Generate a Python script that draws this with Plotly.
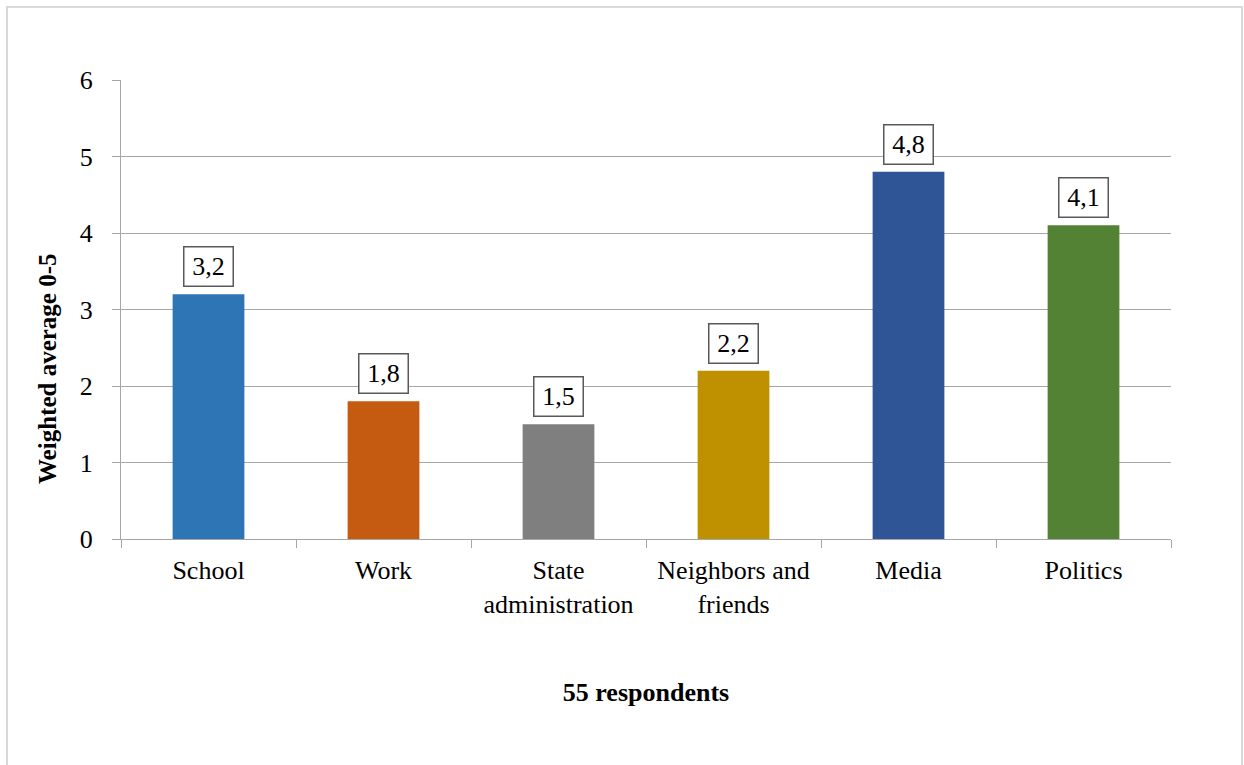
import plotly.graph_objects as go

categories = ["School", "Work", "State<br>administration", "Neighbors and<br>friends", "Media", "Politics"]
values = [3.2, 1.8, 1.5, 2.2, 4.8, 4.1]
value_labels = ["3,2", "1,8", "1,5", "2,2", "4,8", "4,1"]
colors = ["#2E75B6", "#C55A11", "#7F7F7F", "#BF9000", "#2F5597", "#548235"]
y_ticks = [0, 1, 2, 3, 4, 5, 6]

FONT = "Liberation Serif"
FS = 26
W, H = 1244, 765
L, R, T, B = 121, 73, 80, 226
pw, ph = W - L - R, H - T - B

fig = go.Figure()
fig.add_trace(go.Bar(x=categories, y=values, marker=dict(color=colors, line=dict(width=0)),
                     width=0.41, showlegend=False, hoverinfo="skip"))

for c, v, lab in zip(categories, values, value_labels):
    fig.add_annotation(x=c, y=v, text=lab, showarrow=False, yanchor="bottom", yshift=7,
                       font=dict(family=FONT, size=FS, color="black"),
                       width=36, height=26, align="center", valign="middle",
                       bordercolor="#595959", borderwidth=1.5, borderpad=6, bgcolor="white")

# y-axis title (placed as in the reference, below the plot centre)
fig.add_annotation(xref="paper", yref="paper", x=(47 - L) / pw, y=(H - B - 369) / ph,
                   text="<b>Weighted average 0-5</b>", textangle=-90, showarrow=False,
                   xanchor="center", yanchor="middle", font=dict(family=FONT, size=25, color="black"))

# outer chart border
fig.add_shape(type="rect", xref="paper", yref="paper",
              x0=(7 - L) / pw, x1=(1242 - L) / pw,
              y0=(H - B - 800) / ph, y1=(H - B - 7) / ph,
              line=dict(color="#D9D9D9", width=2), fillcolor="rgba(0,0,0,0)", layer="below")

fig.update_layout(
    width=W, height=H,
    margin=dict(l=L, r=R, t=T, b=B),
    paper_bgcolor="white", plot_bgcolor="white",
    font=dict(family=FONT, size=FS, color="black"),
    bargap=0.59,
    xaxis=dict(type="category", showline=True, linecolor="#A6A6A6", linewidth=1,
               ticks="outside", tickson="boundaries", ticklen=8, tickcolor="#A6A6A6",
               showgrid=False, tickfont=dict(family=FONT, size=FS), ticklabelstandoff=8,
               title=dict(text="<b>55 respondents</b>", font=dict(family=FONT, size=FS), standoff=64)),
    yaxis=dict(range=[0, 6], tickvals=y_ticks, showline=True, linecolor="#A6A6A6", linewidth=1,
               ticks="outside", ticklen=8, tickcolor="#A6A6A6",
               showgrid=True, gridcolor="#A6A6A6", gridwidth=1, zeroline=False,
               tickfont=dict(family=FONT, size=FS), ticklabelstandoff=14),
)

fig.write_html("out.html")
